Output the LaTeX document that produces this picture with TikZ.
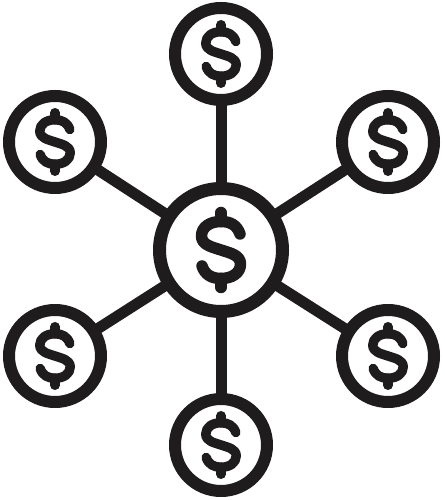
\documentclass[tikz,border=0pt]{standalone}
\usetikzlibrary{backgrounds}
\definecolor{ink}{RGB}{30,28,29}
\tikzset{
  coin/.style={circle, draw=ink, fill=white, line width=12pt, minimum size=92pt, inner sep=0pt},
  bigcoin/.style={circle, draw=ink, fill=white, line width=13pt, minimum size=123pt, inner sep=0pt},
  spoke/.style={draw=ink, line width=11pt},
  dollar/.pic={
    \draw[ink, line cap=round, line join=round]
      (19,16) .. controls (16,25) and (9,28.5) .. (0,28.5)
      .. controls (-11,28.5) and (-19.5,23) .. (-19.5,14)
      .. controls (-19.5,5) and (-9,3) .. (0,0)
      .. controls (9,-3) and (19.5,-5) .. (19.5,-14)
      .. controls (19.5,-23) and (11,-28.5) .. (0,-28.5)
      .. controls (-9,-28.5) and (-16,-25) .. (-19,-16);
    \draw[ink, line cap=round] (0,28.5) -- (0,37.5) (0,-28.5) -- (0,-37.5);
  }
}
\begin{document}
\begin{tikzpicture}[x=1pt,y=1pt]
\useasboundingbox (0,0) rectangle (444,500);
\node[bigcoin] (c) at (221,250) {};
\node[coin] (t) at (221,446) {};
\node[coin] (b) at (221,55) {};
\node[coin] (ul) at (55,358) {};
\node[coin] (ur) at (388,358) {};
\node[coin] (ll) at (55,144) {};
\node[coin] (lr) at (388,144) {};
\begin{scope}[on background layer]
  \foreach \n in {t,b,ul,ur,ll,lr} \draw[spoke] (c.center) -- (\n.center);
\end{scope}
\pic[line width=11.5pt] at (c) {dollar};
\foreach \n in {t,b,ul,ur,ll,lr} \pic[scale=0.78, line width=9.5pt] at (\n) {dollar};
\end{tikzpicture}
\end{document}
